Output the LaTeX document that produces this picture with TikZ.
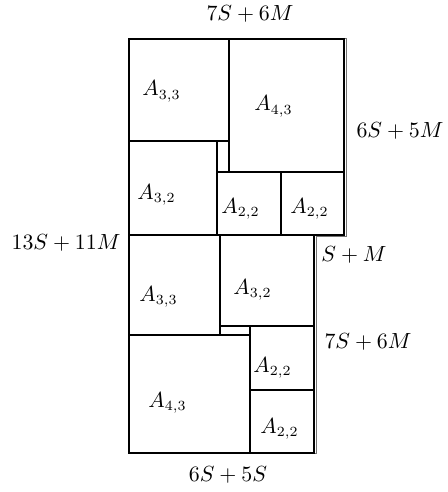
\documentclass[tikz,border=0pt]{standalone}
\begin{document}
\begin{tikzpicture}[x=0.5pt,y=-0.5pt,
  blk/.style={draw=black,line width=0.6pt},
  outl/.style={draw=black!55,line width=0.5pt},
  lab/.style={inner sep=0pt,anchor=base west,font=\fontsize{10.5}{12.6}\selectfont},
  dim/.style={inner sep=0pt,anchor=center,font=\fontsize{10.5}{12.6}\selectfont}]
\useasboundingbox (0,0) rectangle (448,492);
% outer outline
\draw[outl] (129,38.5) -- (346.5,38.5) -- (346.5,236.5) -- (316,236.5) -- (316,453.5) -- (129,453.5) -- cycle;
% upper block
\draw[blk] (129,39) rectangle (229,141);
\draw[blk] (229,39) rectangle (344,172);
\draw[blk] (129,141) rectangle (217,235);
\draw[blk] (217,172) rectangle (281,235);
\draw[blk] (281,172) rectangle (344,235);
% lower block
\draw[blk] (129,235) rectangle (220,335);
\draw[blk] (220,235) rectangle (314,326);
\draw[blk] (129,335) rectangle (250,453);
\draw[blk] (250,326) rectangle (314,390);
\draw[blk] (250,390) rectangle (314,453);
% labels
\node[lab] (l1) at (142,96) {$A_{3,3}$};
\node[lab] (l2) at (254,111) {$A_{4,3}$};
\node[lab] (l3) at (137,199) {$A_{3,2}$};
\node[lab] (l4) at (221,213) {$A_{2,2}$};
\node[lab] (l5) at (290,213) {$A_{2,2}$};
\node[lab] (l6) at (139,301) {$A_{3,3}$};
\node[lab] (l7) at (233,294) {$A_{3,2}$};
\node[lab] (l8) at (253,372) {$A_{2,2}$};
\node[lab] (l9) at (148,407) {$A_{4,3}$};
\node[lab] (l10) at (260,433) {$A_{2,2}$};
% dimensions
\node[dim] (d1) at (250,14) {$7S+6M$};
\node[dim] (d2) at (400,131) {$6S+5M$};
\node[dim] (d3) at (66,243) {$13S+11M$};
\node[dim] (d4) at (354,255) {$S+M$};
\node[dim] (d5) at (368,342) {$7S+6M$};
\node[dim] (d6) at (228,475) {$6S+5S$};
\end{tikzpicture}
\end{document}
